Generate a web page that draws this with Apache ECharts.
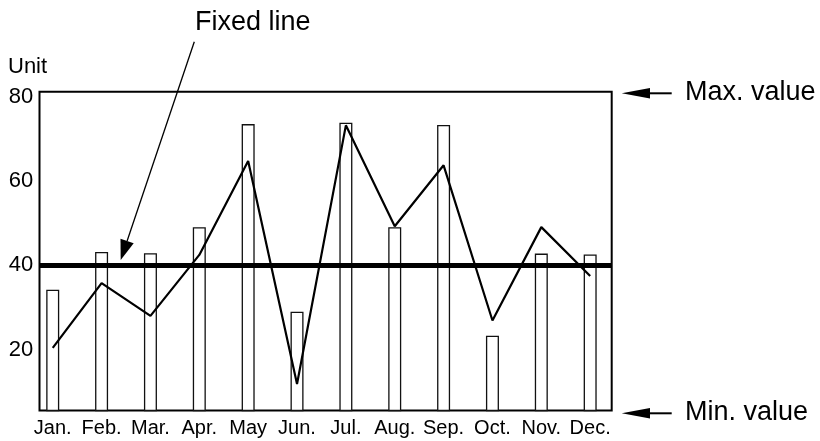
<!DOCTYPE html>
<html>
<head>
<meta charset="utf-8">
<script src="https://cdn.jsdelivr.net/npm/echarts@6/dist/echarts.min.js"></script>
<style>
  html, body { margin: 0; padding: 0; background: #fff; }
  #chart { width: 820px; height: 441px; }
</style>
</head>
<body>
<div id="chart"></div>
<script>
const categories = ['Jan.', 'Feb.', 'Mar.', 'Apr.', 'May', 'Jun.', 'Jul.', 'Aug.', 'Sep.', 'Oct.', 'Nov.', 'Dec.'];
const barValues = [34.2, 43.2, 42.9, 49.1, 73.6, 29.0, 73.9, 49.1, 73.4, 23.3, 42.8, 42.6];
const lineValues = [20.4, 35.8, 28.0, 42.5, 64.8, 11.8, 73.3, 49.3, 63.8, 26.9, 49.1, 37.5];
const yTickValues = [20, 40, 60, 80];
const fixedValue = 40;
const axisMin = 5.5;
const axisMax = 81.3;
const unitLabel = 'Unit';
const fixedLabel = 'Fixed line';
const maxLabel = 'Max. value';
const minLabel = 'Min. value';

const FONT = '"Liberation Sans", Arial, sans-serif';
const chart = echarts.init(document.getElementById('chart'), null, { renderer: 'canvas' });

const option = {
  animation: false,
  backgroundColor: '#ffffff',
  grid: [
    { left: 28.3, right: 205.4, top: 91.7, bottom: 30.5, outerBoundsMode: 'none', containLabel: false, show: false },
    { left: 39.5, right: 208.3, top: 91.7, bottom: 30.5, outerBoundsMode: 'none', containLabel: false, show: true,
      borderColor: '#000', borderWidth: 2, backgroundColor: 'transparent' }
  ],
  xAxis: [
    { type: 'category', gridIndex: 0, data: categories, boundaryGap: true,
      axisLine: { show: false }, axisTick: { show: false }, splitLine: { show: false },
      axisLabel: { interval: 0, margin: 8, fontSize: 20, color: '#000', fontFamily: FONT } },
    { type: 'value', gridIndex: 1, min: 0, max: 1, show: false }
  ],
  yAxis: [
    { type: 'value', gridIndex: 0, min: axisMin, max: axisMax,
      axisLine: { show: false }, axisTick: { show: false }, splitLine: { show: false },
      axisLabel: { customValues: yTickValues, margin: -5, fontSize: 22, color: '#000', fontFamily: FONT } },
    { type: 'value', gridIndex: 1, min: axisMin, max: axisMax, show: false }
  ],
  series: [
    { type: 'bar', xAxisIndex: 0, yAxisIndex: 0, data: barValues, barWidth: 13, clip: true,
      itemStyle: { color: '#ffffff', borderColor: '#111', borderWidth: 1.3 }, z: 2 },
    { type: 'line', xAxisIndex: 0, yAxisIndex: 0, data: lineValues, symbol: 'none', showSymbol: false,
      lineStyle: { color: '#000', width: 2.2 }, z: 4 },
    { type: 'line', xAxisIndex: 1, yAxisIndex: 1, data: [[0, fixedValue], [1, fixedValue]],
      symbol: 'none', showSymbol: false, lineStyle: { color: '#000', width: 5, cap: 'butt' }, z: 3 }
  ],
  graphic: [
    { type: 'text', x: 8, y: 67, style: { text: unitLabel, fontSize: 22, fontFamily: FONT, fill: '#000', verticalAlign: 'middle', align: 'left' } },
    { type: 'text', x: 195, y: 23, style: { text: fixedLabel, fontSize: 27, fontFamily: FONT, fill: '#000', verticalAlign: 'middle', align: 'left' } },
    { type: 'line', shape: { x1: 194.3, y1: 41.7, x2: 127.1, y2: 241.05 }, style: { stroke: '#000', lineWidth: 1.3 } },
    { type: 'polygon', shape: { points: [[120.7, 260], [133.7, 243.3], [120.5, 238.8]] }, style: { fill: '#000' } },
    { type: 'text', x: 685, y: 93, style: { text: maxLabel, fontSize: 27, fontFamily: FONT, fill: '#000', verticalAlign: 'middle', align: 'left' } },
    { type: 'line', shape: { x1: 645, y1: 93.3, x2: 671.7, y2: 93.3 }, style: { stroke: '#000', lineWidth: 2 } },
    { type: 'polygon', shape: { points: [[621.7, 93.3], [650, 88], [650, 98.6]] }, style: { fill: '#000' } },
    { type: 'text', x: 685, y: 413, style: { text: minLabel, fontSize: 27, fontFamily: FONT, fill: '#000', verticalAlign: 'middle', align: 'left' } },
    { type: 'line', shape: { x1: 645, y1: 413.3, x2: 671.7, y2: 413.3 }, style: { stroke: '#000', lineWidth: 2 } },
    { type: 'polygon', shape: { points: [[621.7, 413.3], [650, 408], [650, 418.6]] }, style: { fill: '#000' } }
  ]
};
chart.setOption(option);
</script>
</body>
</html>
